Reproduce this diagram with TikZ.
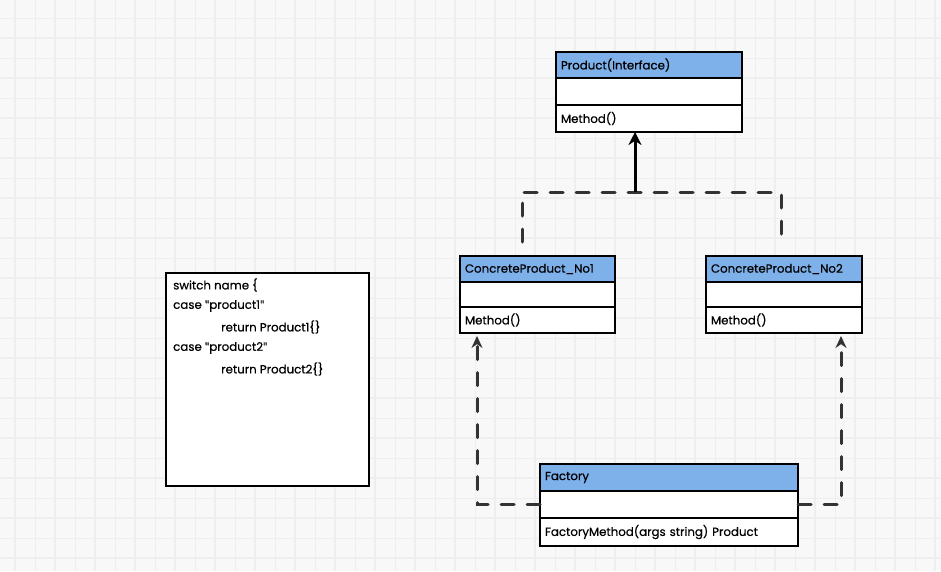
\documentclass[tikz,border=0pt]{standalone}
\usepackage{fontspec}
\setmainfont{Poppins}[FakeBold=0.5]
\newfontfamily\quotefont{Lato}[FakeBold=0.5]
\newcommand{\sq}{{\quotefont\char34}}
\usetikzlibrary{arrows.meta}
\definecolor{bgc}{HTML}{F8F8F8}
\definecolor{gridc}{HTML}{EEEEEE}
\definecolor{hdrc}{HTML}{7EB0EA}
\definecolor{linec}{HTML}{333333}
\tikzset{
  cellbox/.style={draw=black, line width=1.8pt, fill=white, anchor=north west, outer sep=0pt, inner xsep=5pt, inner ysep=0pt, align=left, font=\fontsize{11.8}{13}\selectfont},
  hdrbox/.style={cellbox, fill=hdrc},
  dashline/.style={draw=linec, line width=3pt, line cap=round, dash pattern=on 13pt off 13pt},
  dasharrow/.style={dashline, -{Stealth[length=12pt,width=11pt]}},
  solidarrow/.style={draw=black, line width=3pt, -{Stealth[length=13pt,width=13pt]}},
  codetext/.style={anchor=west, inner sep=0pt, font=\fontsize{11.8}{13}\selectfont}
}
\begin{document}
\begin{tikzpicture}[x=1pt,y=-1pt]
\useasboundingbox (0,0) rectangle (941,571);
\fill[bgc] (0,0) rectangle (941,571);
\foreach \gx in {35,75,...,935} \draw[gridc, line width=0.8pt] (\gx,0) -- (\gx,571);
\foreach \gy in {18,58,...,571} \draw[gridc, line width=0.8pt] (0,\gy) -- (941,\gy);
\foreach \gx in {15,55,...,935} \draw[gridc, line width=1.5pt] (\gx,0) -- (\gx,571);
\foreach \gy in {38,78,...,571} \draw[gridc, line width=1.5pt] (0,\gy) -- (941,\gy);

% Product(Interface)
\node[hdrbox, minimum width=186, text width=176, minimum height=26] (ph) at (556,52) {Product(Interface)};
\node[cellbox, minimum width=186, text width=176, minimum height=27] (pm) at (ph.south west) {};
\node[cellbox, minimum width=186, text width=176, minimum height=27] (pb) at (pm.south west) {Method()};

% ConcreteProduct_No1
\node[hdrbox, minimum width=155, text width=145, minimum height=26] (ah) at (460,256) {ConcreteProduct\_No1};
\node[cellbox, minimum width=155, text width=145, minimum height=25] (am) at (ah.south west) {};
\node[cellbox, minimum width=155, text width=145, minimum height=26] (ab) at (am.south west) {Method()};

% ConcreteProduct_No2
\node[hdrbox, minimum width=156, text width=146, minimum height=26] (bh) at (706,256) {ConcreteProduct\_No2};
\node[cellbox, minimum width=156, text width=146, minimum height=25] (bm) at (bh.south west) {};
\node[cellbox, minimum width=156, text width=146, minimum height=26] (bb) at (bm.south west) {Method()};

% Factory
\node[hdrbox, minimum width=258, text width=248, minimum height=27] (fh) at (540,464) {Factory};
\node[cellbox, minimum width=258, text width=248, minimum height=27] (fm) at (fh.south west) {};
\node[cellbox, minimum width=258, text width=248, minimum height=28] (fb) at (fm.south west) {FactoryMethod(args string) Product};

% switch box
\node[draw=black, line width=1.8pt, fill=white, anchor=north west, outer sep=0pt, minimum width=203, minimum height=213, inner sep=0pt] (sw) at (166,273) {};
\node[codetext] (s1) at (173,285) {switch name \{};
\node[codetext] (s2) at (173,306) {case \sq product1\sq};
\node[codetext] (s3) at (221,327) {return Product1\{\}};
\node[codetext] (s4) at (173,348) {case \sq product2\sq};
\node[codetext] (s5) at (221,369) {return Product2\{\}};

% connectors
\coordinate (j) at (635,192);
\coordinate (l1) at (522,242);
\coordinate (l2) at (781,242);
\draw[dashline] (l1) -- (l1 |- j) -- (l2 |- j) -- (l2);
\draw[solidarrow] (j) -- (j |- pb.south);
\coordinate (t1) at (477,336);
\coordinate (t2) at (841,336);
\draw[dasharrow] (fm.west) -| (t1);
\draw[dasharrow] (fm.east) -| (t2);
\end{tikzpicture}
\end{document}
